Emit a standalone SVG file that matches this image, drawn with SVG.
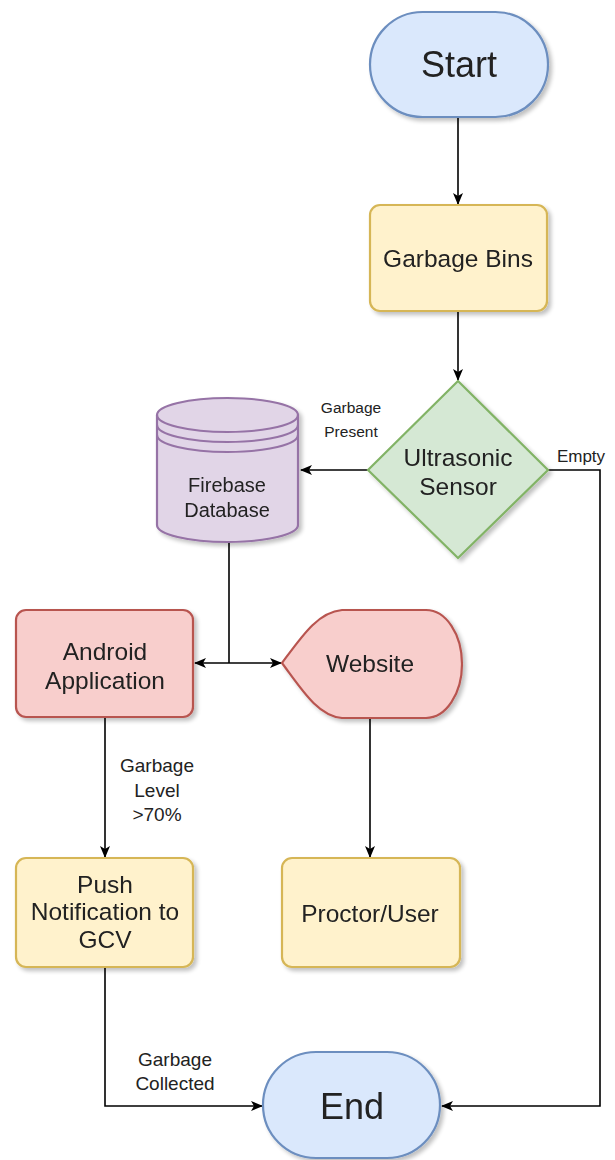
<svg xmlns="http://www.w3.org/2000/svg" width="615" height="1160" viewBox="0 0 615 1160">
<style>
text{font-family:"Liberation Sans",Arial,sans-serif;fill:#222;text-anchor:middle}
.n{font-size:24.5px}
.big{font-size:36px}
.lbl{font-size:19px}
.blue{fill:#dae8fc;stroke:#6c8ebf;stroke-width:2.2}
.yel{fill:#fff2cc;stroke:#d6b656;stroke-width:2.2}
.grn{fill:#d5e8d4;stroke:#82b366;stroke-width:2.2}
.pur{fill:#e1d5e7;stroke:#9673a6;stroke-width:2.2}
.red{fill:#f8cecc;stroke:#b85450;stroke-width:2.2}
.edge{fill:none;stroke:#000;stroke-width:1.6}
</style>
<defs>
<filter id="sh" x="-10%" y="-10%" width="130%" height="130%">
<feGaussianBlur in="SourceAlpha" stdDeviation="2"/>
<feOffset dx="3" dy="3" result="b"/>
<feComponentTransfer><feFuncA type="linear" slope="0.25"/></feComponentTransfer>
<feMerge><feMergeNode/><feMergeNode in="SourceGraphic"/></feMerge>
</filter>
<marker id="arr" viewBox="0 0 12 10" refX="11" refY="5" markerWidth="12" markerHeight="10" markerUnits="userSpaceOnUse" orient="auto">
<path d="M0,0 L12,5 L0,10 L3,5 Z" fill="#000"/>
</marker>
</defs>

<g id="connectors">
<line class="edge" x1="458" y1="117" x2="458" y2="204" marker-end="url(#arr)"/>
<line class="edge" x1="458" y1="312" x2="458" y2="380" marker-end="url(#arr)"/>
<line class="edge" x1="369" y1="470" x2="301" y2="470" marker-end="url(#arr)"/>
<polyline class="edge" points="548,470 600,470 600,1106 442,1106" marker-end="url(#arr)"/>
<line class="edge" x1="229" y1="542" x2="229" y2="663"/>
<line class="edge" x1="229" y1="663" x2="195" y2="663" marker-end="url(#arr)"/>
<line class="edge" x1="229" y1="663" x2="281" y2="663" marker-end="url(#arr)"/>
<line class="edge" x1="105" y1="718" x2="105" y2="857" marker-end="url(#arr)"/>
<line class="edge" x1="370" y1="718" x2="370" y2="857" marker-end="url(#arr)"/>
<polyline class="edge" points="105,967 105,1106 262,1106" marker-end="url(#arr)"/>
<text x="351" y="413" style="font-size:15.5px">Garbage</text>
<text x="351" y="437" style="font-size:15.5px">Present</text>
<text x="581" y="462" style="font-size:17px">Empty</text>
<text class="lbl" x="157" y="772">Garbage</text>
<text class="lbl" x="157" y="797">Level</text>
<text class="lbl" x="157" y="821">&gt;70%</text>
<text class="lbl" x="175" y="1066">Garbage</text>
<text class="lbl" x="175" y="1090">Collected</text>
</g>

<g id="start" filter="url(#sh)">
<rect class="blue" x="370" y="12" width="178" height="105" rx="52.5"/>
<text class="big" x="459" y="77">Start</text>
</g>

<g id="bins" filter="url(#sh)">
<rect class="yel" x="370" y="205" width="177" height="106" rx="10"/>
<text class="n" x="458" y="267">Garbage Bins</text>
</g>

<g id="sensor" filter="url(#sh)">
<polygon class="grn" points="458,381 548,470 458,558 368,470"/>
<text class="n" x="458" y="466">Ultrasonic</text>
<text class="n" x="458" y="495">Sensor</text>
</g>

<g id="firebase" filter="url(#sh)">
<path class="pur" d="M157,415 A70.5,17 0 0 1 298,415 L298,525 A70.5,17 0 0 1 157,525 Z"/>
<path class="pur" d="M157,415 A70.5,17 0 0 0 298,415 M157,425 A70.5,17 0 0 0 298,425 M157,435 A70.5,17 0 0 0 298,435" style="fill:none"/>
<text x="227" y="492" style="font-size:20px">Firebase</text>
<text x="227" y="517" style="font-size:20px">Database</text>
</g>

<g id="android" filter="url(#sh)">
<rect class="red" x="16" y="610" width="177" height="107" rx="10"/>
<text class="n" x="105" y="660">Android</text>
<text class="n" x="105" y="689">Application</text>
</g>

<g id="website" filter="url(#sh)">
<path class="red" d="M282,663 C302,636 318,612 342,610 L426,610 A36,54 0 0 1 426,718 L342,718 C318,716 302,690 282,663 Z"/>
<text class="n" x="370" y="672">Website</text>
</g>

<g id="push" filter="url(#sh)">
<rect class="yel" x="16" y="858" width="177" height="109" rx="10"/>
<text class="n" x="105" y="893">Push</text>
<text class="n" x="105" y="920">Notification to</text>
<text class="n" x="105" y="948">GCV</text>
</g>

<g id="proctor" filter="url(#sh)">
<rect class="yel" x="282" y="858" width="178" height="109" rx="10"/>
<text class="n" x="370" y="922">Proctor/User</text>
</g>

<g id="end" filter="url(#sh)">
<rect class="blue" x="263" y="1052" width="177" height="106" rx="53"/>
<text class="big" x="352" y="1119">End</text>
</g>
</svg>
